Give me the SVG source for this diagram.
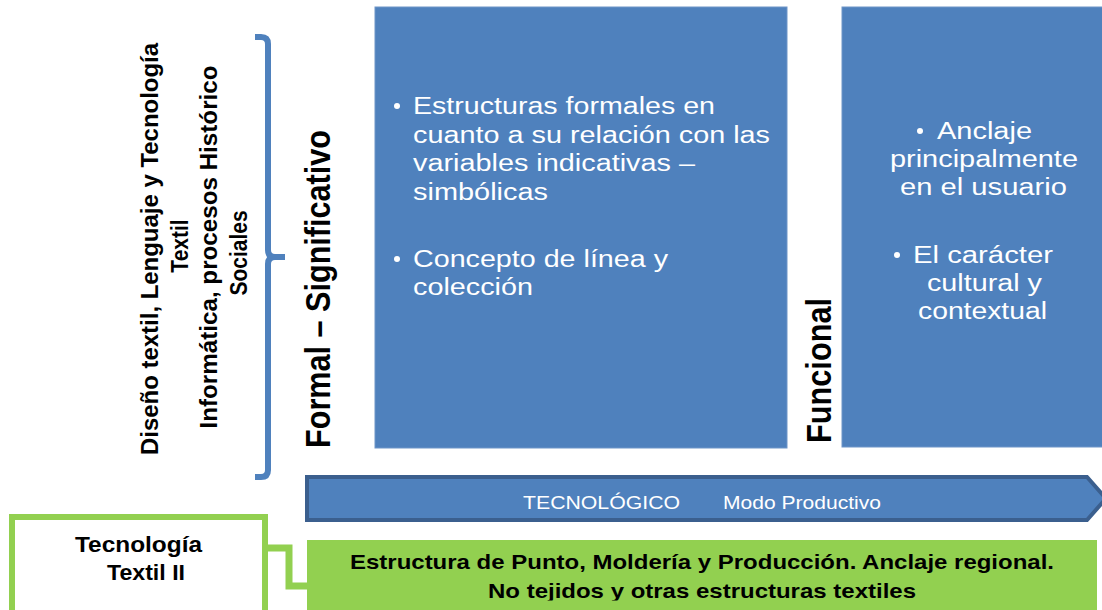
<svg xmlns="http://www.w3.org/2000/svg" width="1102" height="610" viewBox="0 0 1102 610">
<style>
.box{fill:#4f81bd;stroke:#6f95c8;stroke-width:1}
.wt{fill:#ffffff;font-family:"Liberation Sans",Arial,sans-serif;font-size:23px}
.bk{fill:#000000;font-family:"Liberation Sans",Arial,sans-serif;font-weight:bold}
.arr{fill:#4f81bd;stroke:#3b5f8e;stroke-width:4}
.grn{fill:#92d050}
</style>
<defs>
<clipPath id="cut"><rect x="300" y="540" width="802" height="60.5"/></clipPath>
</defs>
<rect width="1102" height="610" fill="#ffffff"/>

<g id="left-label">
<text class="bk" font-size="21" text-anchor="middle" transform="translate(158,249) scale(1.1,1) rotate(-90)" textLength="412" lengthAdjust="spacingAndGlyphs">Diseño textil, Lenguaje y Tecnología</text>
<text class="bk" font-size="21" text-anchor="middle" transform="translate(188,246) scale(1.1,1) rotate(-90)">Textil</text>
<text class="bk" font-size="21" text-anchor="middle" transform="translate(217,247) scale(1.1,1) rotate(-90)" textLength="363" lengthAdjust="spacingAndGlyphs">Informática, procesos Histórico</text>
<text class="bk" font-size="21" text-anchor="middle" transform="translate(247,253) scale(1.1,1) rotate(-90)">Sociales</text>
</g>

<g id="brace">
<path d="M255,37 H261 Q268,37 268,44 V250 Q268,257 275,257 H285 M275,257 Q268,257 268,264 V470 Q268,477 261,477 H255" fill="none" stroke="#4f81bd" stroke-width="6" stroke-linejoin="round"/>
</g>

<g id="formal-label">
<text class="bk" font-size="30" transform="translate(330,448) scale(1.19,1) rotate(-90)" textLength="318" lengthAdjust="spacingAndGlyphs">Formal – Significativo</text>
</g>

<g id="formal-box">
<rect class="box" x="375" y="7" width="412" height="441"/>
<circle cx="397" cy="106" r="3" fill="#fff"/>
<text class="wt" x="413" y="114" textLength="302" lengthAdjust="spacingAndGlyphs">Estructuras formales en</text>
<text class="wt" x="413" y="142.5" textLength="357" lengthAdjust="spacingAndGlyphs">cuanto a su relación con las</text>
<text class="wt" x="413" y="171" textLength="282" lengthAdjust="spacingAndGlyphs">variables indicativas –</text>
<text class="wt" x="413" y="199.5" textLength="135" lengthAdjust="spacingAndGlyphs">simbólicas</text>
<circle cx="397" cy="259" r="3" fill="#fff"/>
<text class="wt" x="413" y="267" textLength="255" lengthAdjust="spacingAndGlyphs">Concepto de línea y</text>
<text class="wt" x="413" y="295" textLength="120" lengthAdjust="spacingAndGlyphs">colección</text>
</g>

<g id="funcional-label">
<text class="bk" font-size="30" transform="translate(831,443) scale(1.19,1) rotate(-90)" textLength="145" lengthAdjust="spacingAndGlyphs">Funcional</text>
</g>

<g id="funcional-box">
<rect class="box" x="842" y="7" width="262" height="440"/>
<circle cx="920" cy="131" r="3" fill="#fff"/>
<text class="wt" x="937" y="139" textLength="95" lengthAdjust="spacingAndGlyphs">Anclaje</text>
<text class="wt" x="890" y="167" textLength="188" lengthAdjust="spacingAndGlyphs">principalmente</text>
<text class="wt" x="900" y="195" textLength="167" lengthAdjust="spacingAndGlyphs">en el usuario</text>
<circle cx="897" cy="255" r="3" fill="#fff"/>
<text class="wt" x="913" y="263" textLength="140" lengthAdjust="spacingAndGlyphs">El carácter</text>
<text class="wt" x="927" y="291" textLength="115" lengthAdjust="spacingAndGlyphs">cultural y</text>
<text class="wt" x="918" y="319" textLength="129" lengthAdjust="spacingAndGlyphs">contextual</text>
</g>

<g id="tecnologico-arrow">
<path class="arr" d="M307,477 H1087 L1106,498.5 L1087,520 H307 Z"/>
<text fill="#ffffff" font-family="'Liberation Sans',Arial,sans-serif" font-size="19" x="523" y="509" textLength="157" lengthAdjust="spacingAndGlyphs">TECNOLÓGICO</text>
<text fill="#ffffff" font-family="'Liberation Sans',Arial,sans-serif" font-size="19" x="723" y="509" textLength="158" lengthAdjust="spacingAndGlyphs">Modo Productivo</text>
</g>

<g id="connectors">
<path d="M268,548 H289 V586 H308" fill="none" stroke="#92d050" stroke-width="7"/>
</g>

<g id="tecnologia-textil">
<rect x="12" y="517" width="253" height="100" fill="#ffffff" stroke="#92d050" stroke-width="6"/>
<text class="bk" font-size="22" x="75" y="552" textLength="127" lengthAdjust="spacingAndGlyphs">Tecnología</text>
<text class="bk" font-size="22" x="107" y="580" textLength="78" lengthAdjust="spacingAndGlyphs">Textil II</text>
</g>

<g id="estructura-box">
<rect class="grn" x="307" y="540" width="790" height="80"/>
<text class="bk" font-size="21" x="350" y="569" textLength="704" lengthAdjust="spacingAndGlyphs">Estructura de Punto, Moldería y Producción. Anclaje regional.</text>
<text class="bk" font-size="21" x="488" y="598" textLength="428" lengthAdjust="spacingAndGlyphs" clip-path="url(#cut)">No tejidos y otras estructuras textiles</text>
</g>
</svg>
